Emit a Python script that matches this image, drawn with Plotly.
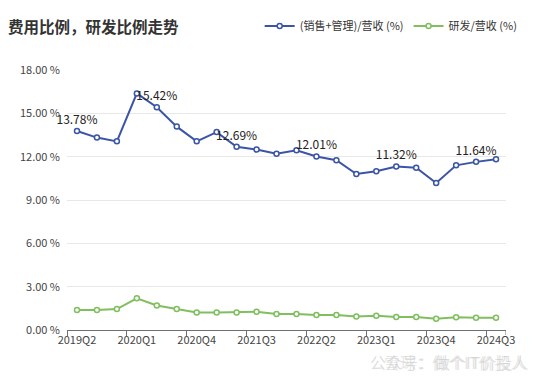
import plotly.graph_objects as go

quarters = ["2019Q2", "2019Q3", "2019Q4", "2020Q1", "2020Q2", "2020Q3", "2020Q4",
            "2021Q1", "2021Q2", "2021Q3", "2021Q4", "2022Q1", "2022Q2", "2022Q3",
            "2022Q4", "2023Q1", "2023Q2", "2023Q3", "2023Q4", "2024Q1", "2024Q2", "2024Q3"]
sales_admin = [13.78, 13.32, 13.06, 16.38, 15.42, 14.08, 13.06, 13.70, 12.69, 12.49, 12.21,
               12.44, 12.01, 11.75, 10.80, 10.99, 11.32, 11.24, 10.18, 11.40, 11.64, 11.82]
rnd = [1.38, 1.38, 1.45, 2.19, 1.70, 1.45, 1.22, 1.22, 1.22, 1.27, 1.11,
       1.11, 1.04, 1.04, 0.94, 0.99, 0.90, 0.90, 0.78, 0.88, 0.85, 0.85]
label_idx = [0, 4, 8, 12, 16, 20]
tick_idx = [0, 3, 6, 9, 12, 15, 18, 21]
y_ticks = [0, 3, 6, 9, 12, 15, 18]

xs = list(range(len(quarters)))
blue = "#3b54a6"
green = "#7fbf5e"
font_family = "Noto Sans CJK SC, Noto Sans, sans-serif"

# figure geometry (page is offset by 8px body margin)
W, H = 529, 368
L, R, T, B = 51, 31.4, 61.5, 46
PW, PH = W - L - R, H - T - B

def px_x(x):
    return (x - L) / PW

def px_y(y):
    return (H - B - y) / PH

texts = [f"{v:.2f}%" if i in label_idx else "" for i, v in enumerate(sales_admin)]

fig = go.Figure()
fig.add_trace(go.Scatter(
    x=xs, y=sales_admin, name="(销售+管理)/营收 (%)",
    mode="lines+markers+text", text=texts, textposition="top center",
    textfont=dict(size=12, color="#222", family=font_family),
    line=dict(color=blue, width=2),
    marker=dict(symbol="circle", size=5, color="white", line=dict(color=blue, width=1.5)),
    cliponaxis=False,
))
fig.add_trace(go.Scatter(
    x=xs, y=rnd, name="研发/营收 (%)",
    mode="lines+markers",
    line=dict(color=green, width=2),
    marker=dict(symbol="circle", size=5, color="white", line=dict(color=green, width=1.5)),
    cliponaxis=False,
))

fig.update_layout(
    width=W, height=H,
    margin=dict(l=L, r=R, t=T, b=B),
    paper_bgcolor="white", plot_bgcolor="white",
    font=dict(family=font_family, size=11, color="#444"),
    title=dict(text="<b>费用比例，研发比例走势</b>", xref="container", x=0, xanchor="left",
               yref="container", y=1 - 20 / H, yanchor="middle", pad=dict(l=0, t=0, b=0, r=0),
               font=dict(size=15.5, color="#333", family=font_family)),
    legend=dict(orientation="h", x=px_x(247), xanchor="left",
                yref="container", y=1 - 18 / H, yanchor="middle",
                font=dict(size=11, color="#333"), bgcolor="rgba(0,0,0,0)"),
    showlegend=True,
)
fig.update_xaxes(
    range=[-0.5, len(quarters) - 0.5],
    tickmode="array", tickvals=tick_idx, ticktext=[quarters[i] for i in tick_idx],
    ticks="", showgrid=False, zeroline=False,
    showline=True, linecolor="#6e7079", linewidth=1,
    tickfont=dict(size=11, color="#444"),
    minor=dict(tick0=-0.5, dtick=3, ticks="outside", ticklen=5, tickcolor="#6e7079", showgrid=False),
)
fig.update_yaxes(
    range=[0, 18], tickmode="array", tickvals=y_ticks,
    ticktext=[f"{v:.2f} %" for v in y_ticks],
    showgrid=True, gridcolor="#e8e8e8", gridwidth=1, zeroline=False,
    showline=False, ticks="", tickfont=dict(size=11, color="#444"), ticklabelstandoff=6,
)
fig.add_shape(type="line", xref="x", yref="paper", x0=len(quarters) - 0.5, x1=len(quarters) - 0.5,
              y0=0, y1=-5 / PH, line=dict(color="#6e7079", width=1))
fig.add_annotation(text="公众号：做个IT价投人", xref="paper", yref="paper",
                   x=px_x(522), y=px_y(354), xanchor="right", yanchor="middle",
                   showarrow=False, font=dict(size=16, color="rgba(200,200,200,0.6)", family=font_family))
fig.add_annotation(text="雪球：做个IT价投人", xref="paper", yref="paper",
                   x=px_x(520), y=px_y(354), xanchor="right", yanchor="middle",
                   showarrow=False, font=dict(size=16, color="rgba(200,200,200,0.45)", family=font_family))

fig.write_html("out.html")
